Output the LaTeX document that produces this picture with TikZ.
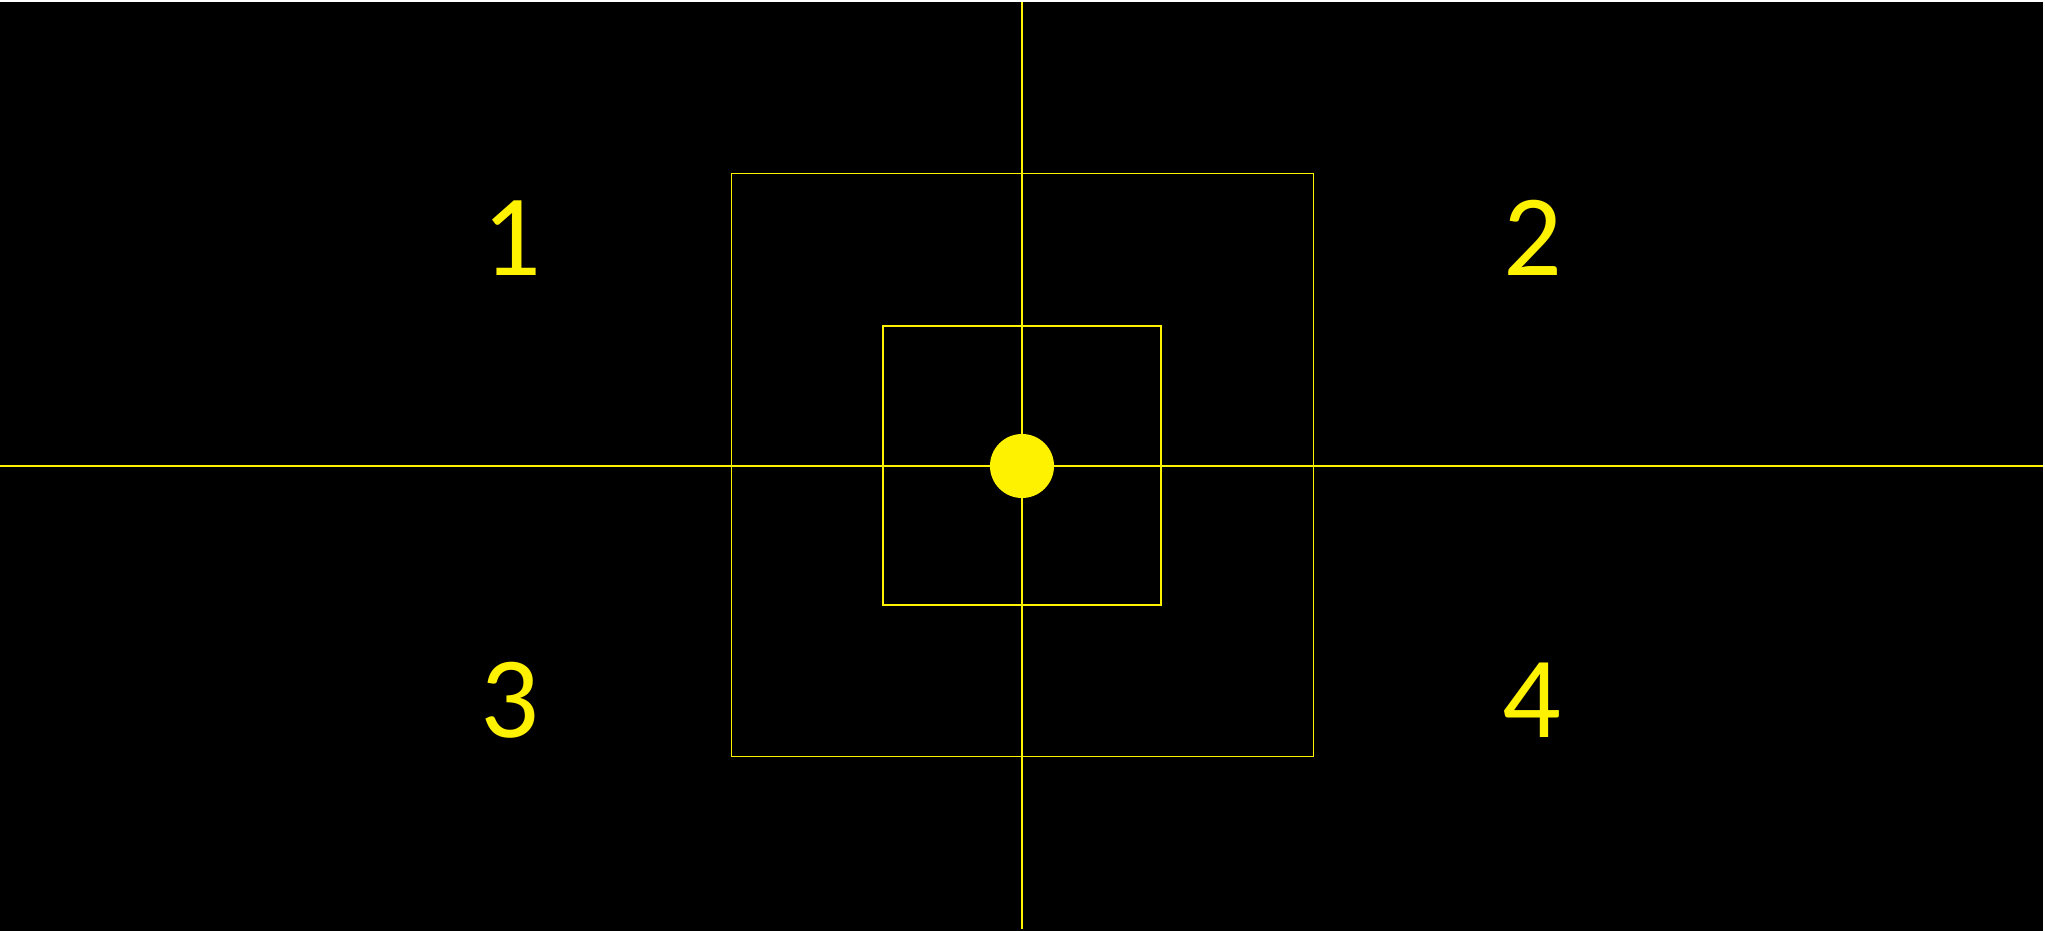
\documentclass[tikz,border=0pt]{standalone}
\usepackage{fontspec}
\setmainfont{Carlito}
\usetikzlibrary{positioning,calc}

\tikzset{
  guide/.style={draw=yellow,line width=0.5pt},
  quadnum/.style={text=yellow,font=\fontsize{33pt}{40pt}\selectfont,inner sep=0pt}
}

\begin{document}
\begin{tikzpicture}[x=0.01cm,y=-0.01cm]

\useasboundingbox (0,0) rectangle (2045,931);
\fill[white] (0,0) rectangle (2045,931);
\fill[black] (0,2) rectangle (2043,931);

% axes
\coordinate (top) at (1022,2);
\coordinate (bottom) at (1022,929);
\coordinate (left) at (0,466);
\coordinate (right) at (2043,466);
\draw[guide] (top) -- (bottom);
\draw[guide] (left) -- (right);

% squares
\draw[guide] (731.5,173.5) rectangle (1313.5,756.5);
\draw[guide] (883,326) rectangle (1161,605);

% centre
\node[circle,fill=yellow,minimum size=0.64cm,inner sep=0pt] (dot) at (1022,466) {};

% quadrant labels
\node[quadnum] (q1) at (512,238) {1};
\node[quadnum] (q2) at (1533,238) {2};
\node[quadnum] (q3) at (510,700) {3};
\node[quadnum] (q4) at (1532,700) {4};

\end{tikzpicture}
\end{document}
